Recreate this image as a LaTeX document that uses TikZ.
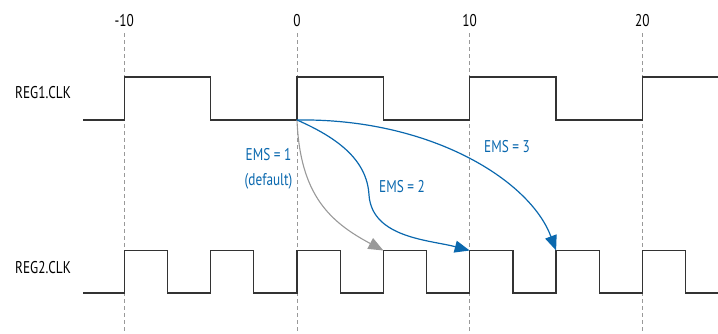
\documentclass[tikz,border=0pt]{standalone}
\usepackage{fontspec}
\setmainfont[FakeStretch=0.78]{PT Sans}
\usetikzlibrary{arrows.meta}
\definecolor{emsblue}{HTML}{0A68AE}
\definecolor{emsgray}{HTML}{999999}
\definecolor{wave}{HTML}{333333}
\begin{document}
\begin{tikzpicture}[x=1pt,y=-1pt,
  lbl/.style={font=\fontsize{17}{19}\selectfont, inner sep=0pt},
  tick/.style={font=\fontsize{17}{19}\selectfont, inner sep=0pt},
  ems/.style={font=\fontsize{17}{25}\selectfont, text=emsblue, inner sep=0pt, align=center},
  grid/.style={draw=emsgray, line width=1pt, dash pattern=on 4pt off 3pt},
  sig/.style={draw=wave, line width=1.3pt, line join=miter},
  bluearrow/.style={draw=emsblue, line width=1.2pt, -{Triangle[length=15pt,width=12pt]}},
  grayarrow/.style={draw=emsgray, line width=1.1pt, -{Triangle[length=15pt,width=12pt]}}
]
\useasboundingbox (0,0) rectangle (718,333);
% tick labels
\node[tick] (tm10) at (124.3,21) {-10};
\node[tick] (t0) at (297,21) {0};
\node[tick] (t10) at (469.7,21) {10};
\node[tick] (t20) at (642.4,21) {20};
% dashed grid lines
\coordinate (bm10) at (124.3,333);
\coordinate (b0) at (297,333);
\coordinate (b10) at (469.7,333);
\coordinate (b20) at (642.4,333);
\draw[grid] (124.3,33) -- (bm10);
\draw[grid] (297,33) -- (b0);
\draw[grid] (469.7,33) -- (b10);
\draw[grid] (642.4,33) -- (b20);
% signal names
\node[lbl, anchor=west] (r1) at (15,93) {REG1.CLK};
\node[lbl, anchor=west] (r2) at (15,268) {REG2.CLK};
% REG1.CLK
\draw[sig] (83,120) -- (124.3,120) -- (124.3,77) -- (210.6,77) -- (210.6,120) -- (297,120)
  -- (297,77) -- (383.4,77) -- (383.4,120) -- (469.7,120) -- (469.7,77) -- (556.1,77)
  -- (556.1,120) -- (642.4,120) -- (642.4,77) -- (718,77);
% REG2.CLK
\draw[sig] (83,293) -- (124.3,293) -- (124.3,250.5) -- (167.5,250.5) -- (167.5,293)
  -- (210.6,293) -- (210.6,250.5) -- (253.8,250.5) -- (253.8,293)
  -- (297,293) -- (297,250.5) -- (340.2,250.5) -- (340.2,293)
  -- (383.4,293) -- (383.4,250.5) -- (426.5,250.5) -- (426.5,293)
  -- (469.7,293) -- (469.7,250.5) -- (512.9,250.5) -- (512.9,293)
  -- (556.1,293) -- (556.1,250.5) -- (599.2,250.5) -- (599.2,293)
  -- (642.4,293) -- (642.4,250.5) -- (685.6,250.5) -- (685.6,293) -- (718,293);
% edge coordinates
\coordinate (src) at (297,120);
\coordinate (e5) at (383.4,250.5);
\coordinate (e10) at (469.7,250.5);
\coordinate (e15) at (556.1,250.5);
% arrows
\draw[grayarrow] (src) .. controls (300,195) and (330,222) .. (e5);
\draw[bluearrow] (src) .. controls (338,138) and (367,160) .. (369,195)
  .. controls (372,238) and (430,240) .. (e10);
\draw[bluearrow] (src) .. controls (430,118) and (530,180) .. (e15);
% labels
\node[ems] (l1) at (268.5,168.5) {EMS = 1\\(default)};
\node[ems] (l2) at (402,187) {EMS = 2};
\node[ems] (l3) at (507,147) {EMS = 3};
\end{tikzpicture}
\end{document}
